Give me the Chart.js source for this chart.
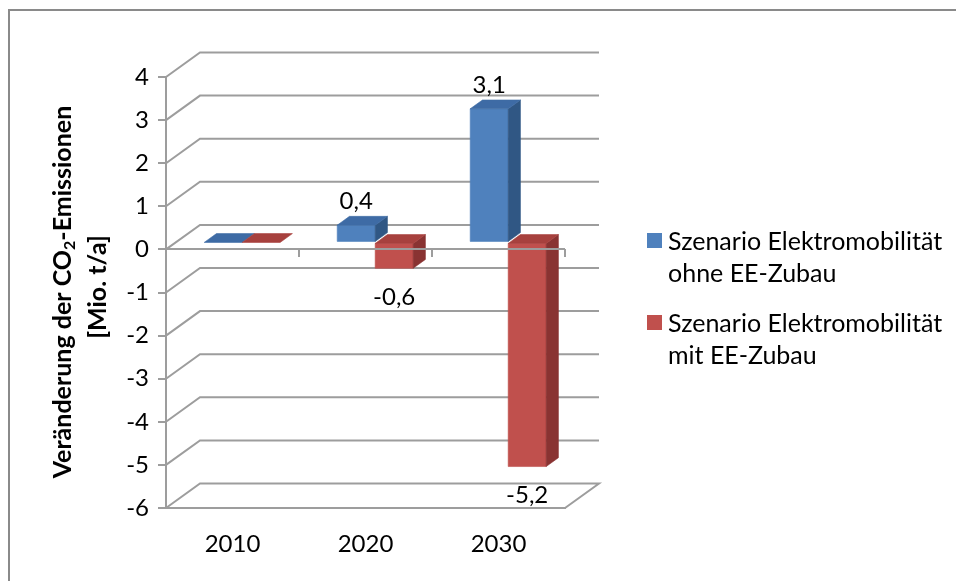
<!DOCTYPE html>
<html>
<head>
<meta charset="utf-8">
<title>CO2-Emissionen Elektromobilität</title>
<script src="https://cdn.jsdelivr.net/npm/chart.js@4.4.1/dist/chart.umd.min.js"></script>
<style>
  html, body { margin: 0; padding: 0; background: #fff; }
  canvas { display: block; }
</style>
</head>
<body>
<canvas id="co2Chart" width="956" height="581"></canvas>
<script>
// Data
const years = ['2010', '2020', '2030'];
const ohneZubau = [0, 0.4, 3.1];
const mitZubau = [0, -0.6, -5.2];
const yTicks = [-6, -5, -4, -3, -2, -1, 0, 1, 2, 3, 4];
const seriesLabels = [
    ['Szenario Elektromobilität', 'ohne EE-Zubau'],
    ['Szenario Elektromobilität', 'mit EE-Zubau']
];
const titleParts = ['Veränderung der CO', '2', '-Emissionen'];
const titleLine2 = '[Mio. t/a]';

// Colours: front, top and side face of each series
const faceColors = [
    { front: '#4f81bd', top: '#3e6ba5', side: '#305784' },
    { front: '#c0504d', top: '#a7413e', side: '#893332' }
];
const gridColor = '#9d9d9d';
const fontFamily = 'Lato, "Open Sans", sans-serif';
const textSize = 24;

// 3D depth of the plot box and where the bars sit inside it
const DEPTH = { x: 34, y: -24.5 };
const BAR_FRONT = 0.285;
const BAR_DEPTH = 0.36;

function fmt(v) {
    return v.toFixed(1).replace('.', ',');
}

function fillPoly(ctx, pts, color) {
    ctx.beginPath();
    ctx.moveTo(pts[0][0], pts[0][1]);
    for (let i = 1; i < pts.length; i++) ctx.lineTo(pts[i][0], pts[i][1]);
    ctx.closePath();
    ctx.fillStyle = color;
    ctx.fill();
    ctx.strokeStyle = color;
    ctx.lineWidth = 0.6;
    ctx.stroke();
}

// Walls, floor and the 3D bars
const box3d = {
    id: 'box3d',
    beforeDatasetsDraw(chart) {
        const { ctx, chartArea, scales: { x, y } } = chart;
        ctx.save();

        // back wall grid lines with their diagonals on the side wall
        ctx.strokeStyle = gridColor;
        ctx.lineWidth = 2;
        ctx.lineJoin = 'miter';
        yTicks.forEach(t => {
            const py = y.getPixelForValue(t);
            ctx.beginPath();
            ctx.moveTo(chartArea.left, py);
            ctx.lineTo(chartArea.left + DEPTH.x, py + DEPTH.y);
            ctx.lineTo(chartArea.right + DEPTH.x, py + DEPTH.y);
            if (t === yTicks[0]) ctx.lineTo(chartArea.right, py);
            ctx.stroke();
        });

        // bars, left to right so the side faces overlap properly
        const fx = DEPTH.x * BAR_FRONT, fy = DEPTH.y * BAR_FRONT;
        const bx = DEPTH.x * BAR_DEPTH, by = DEPTH.y * BAR_DEPTH;
        years.forEach((yr, idx) => {
            chart.data.datasets.forEach((ds, di) => {
                const bar = chart.getDatasetMeta(di).data[idx];
                const p = bar.getProps(['x', 'y', 'base', 'width'], true);
                const l = p.x - p.width / 2 + fx;
                const r = p.x + p.width / 2 + fx;
                const top = Math.min(p.y, p.base) + fy;
                const bot = Math.max(p.y, p.base) + fy;
                const c = faceColors[di];
                if (bot - top > 0.5) {
                    fillPoly(ctx, [[l, top], [r, top], [r, bot], [l, bot]], c.front);
                    fillPoly(ctx, [[r, top], [r + bx, top + by], [r + bx, bot + by], [r, bot]], c.side);
                }
                fillPoly(ctx, [[l, top], [r, top], [r + bx, top + by], [l + bx, top + by]], c.top);
            });
        });

        ctx.restore();
        return false;
    },
    afterDraw(chart) {
        const { ctx, chartArea, scales: { x, y } } = chart;
        ctx.save();

        // category axis at zero, in front of the bars
        const py0 = Math.round(y.getPixelForValue(0));
        ctx.strokeStyle = gridColor;
        ctx.lineWidth = 2;
        ctx.beginPath();
        ctx.moveTo(chartArea.left, py0);
        ctx.lineTo(chartArea.right, py0);
        const step = (chartArea.right - chartArea.left) / years.length;
        for (let k = 1; k <= years.length; k++) {
            const px = chartArea.left + k * step;
            ctx.moveTo(px, py0);
            ctx.lineTo(px, py0 + 8);
        }
        ctx.stroke();

        // value labels
        const fx = DEPTH.x * BAR_FRONT, fy = DEPTH.y * BAR_FRONT;
        ctx.font = textSize + 'px ' + fontFamily;
        ctx.fillStyle = '#000';
        ctx.textAlign = 'center';
        ctx.textBaseline = 'middle';
        chart.data.datasets.forEach((ds, di) => {
            chart.getDatasetMeta(di).data.forEach((bar, idx) => {
                const v = ds.data[idx];
                if (v === 0) return;
                const p = bar.getProps(['x', 'y', 'base'], true);
                const ly = v > 0 ? p.y + fy - 24 : p.y + fy + 29;
                ctx.fillText(fmt(v), p.x + fx, ly);
            });
        });

        // legend
        ctx.textAlign = 'left';
        ctx.font = '25px ' + fontFamily;
        const legendTop = [233, 315];
        chart.data.datasets.forEach((ds, di) => {
            const top = legendTop[di];
            ctx.fillStyle = faceColors[di].front;
            ctx.fillRect(647, top, 15, 15);
            ctx.fillStyle = '#000';
            seriesLabels[di].forEach((line, li) => {
                ctx.fillText(line, 668, top + 9 + li * 32);
            });
        });

        // rotated axis title with subscript
        ctx.save();
        ctx.translate(63, 292);
        ctx.rotate(-Math.PI / 2);
        const bold = 'bold 25px ' + fontFamily;
        const small = 'bold 16px ' + fontFamily;
        ctx.font = bold;
        const w1 = ctx.measureText(titleParts[0]).width;
        const w3 = ctx.measureText(titleParts[2]).width;
        ctx.font = small;
        const w2 = ctx.measureText(titleParts[1]).width;
        let cx = -(w1 + w2 + w3) / 2;
        ctx.textBaseline = 'middle';
        ctx.textAlign = 'left';
        ctx.font = bold;
        ctx.fillText(titleParts[0], cx, 0);
        cx += w1;
        ctx.font = small;
        ctx.fillText(titleParts[1], cx, 7);
        cx += w2;
        ctx.font = bold;
        ctx.fillText(titleParts[2], cx, 0);
        ctx.textAlign = 'center';
        ctx.fillText(titleLine2, 5, 35);
        ctx.restore();

        // outer frame
        ctx.strokeStyle = '#8a8a8a';
        ctx.lineWidth = 2;
        ctx.beginPath();
        ctx.moveTo(9, 590);
        ctx.lineTo(9, 10);
        ctx.lineTo(960, 10);
        ctx.stroke();

        ctx.restore();
    }
};

const ctx = document.getElementById('co2Chart').getContext('2d');
new Chart(ctx, {
    type: 'bar',
    data: {
        labels: years,
        datasets: [{
            label: seriesLabels[0].join(' '),
            data: ohneZubau,
            backgroundColor: faceColors[0].front
        }, {
            label: seriesLabels[1].join(' '),
            data: mitZubau,
            backgroundColor: faceColors[1].front
        }]
    },
    options: {
        responsive: false,
        animation: false,
        devicePixelRatio: 1,
        categoryPercentage: 0.571,
        barPercentage: 1,
        layout: {
            padding: { left: 0, right: 391, top: 77, bottom: 0 }
        },
        plugins: {
            legend: { display: false },
            tooltip: { enabled: false }
        },
        scales: {
            x: {
                grid: { display: false },
                border: { display: true, color: gridColor, width: 2 },
                ticks: {
                    color: '#000',
                    font: { family: fontFamily, size: textSize },
                    padding: 14
                },
                afterFit: scale => { scale.height = 73; }
            },
            y: {
                min: -6,
                max: 4,
                afterBuildTicks: scale => {
                    scale.ticks = yTicks.map(v => ({ value: v }));
                },
                ticks: {
                    color: '#000',
                    font: { family: fontFamily, size: textSize },
                    padding: 9
                },
                grid: {
                    drawOnChartArea: false,
                    drawTicks: true,
                    tickLength: 8,
                    color: gridColor,
                    lineWidth: 2
                },
                border: { color: gridColor, width: 2 },
                afterFit: scale => { scale.width = 166; }
            }
        }
    },
    plugins: [box3d]
});
</script>
</body>
</html>
